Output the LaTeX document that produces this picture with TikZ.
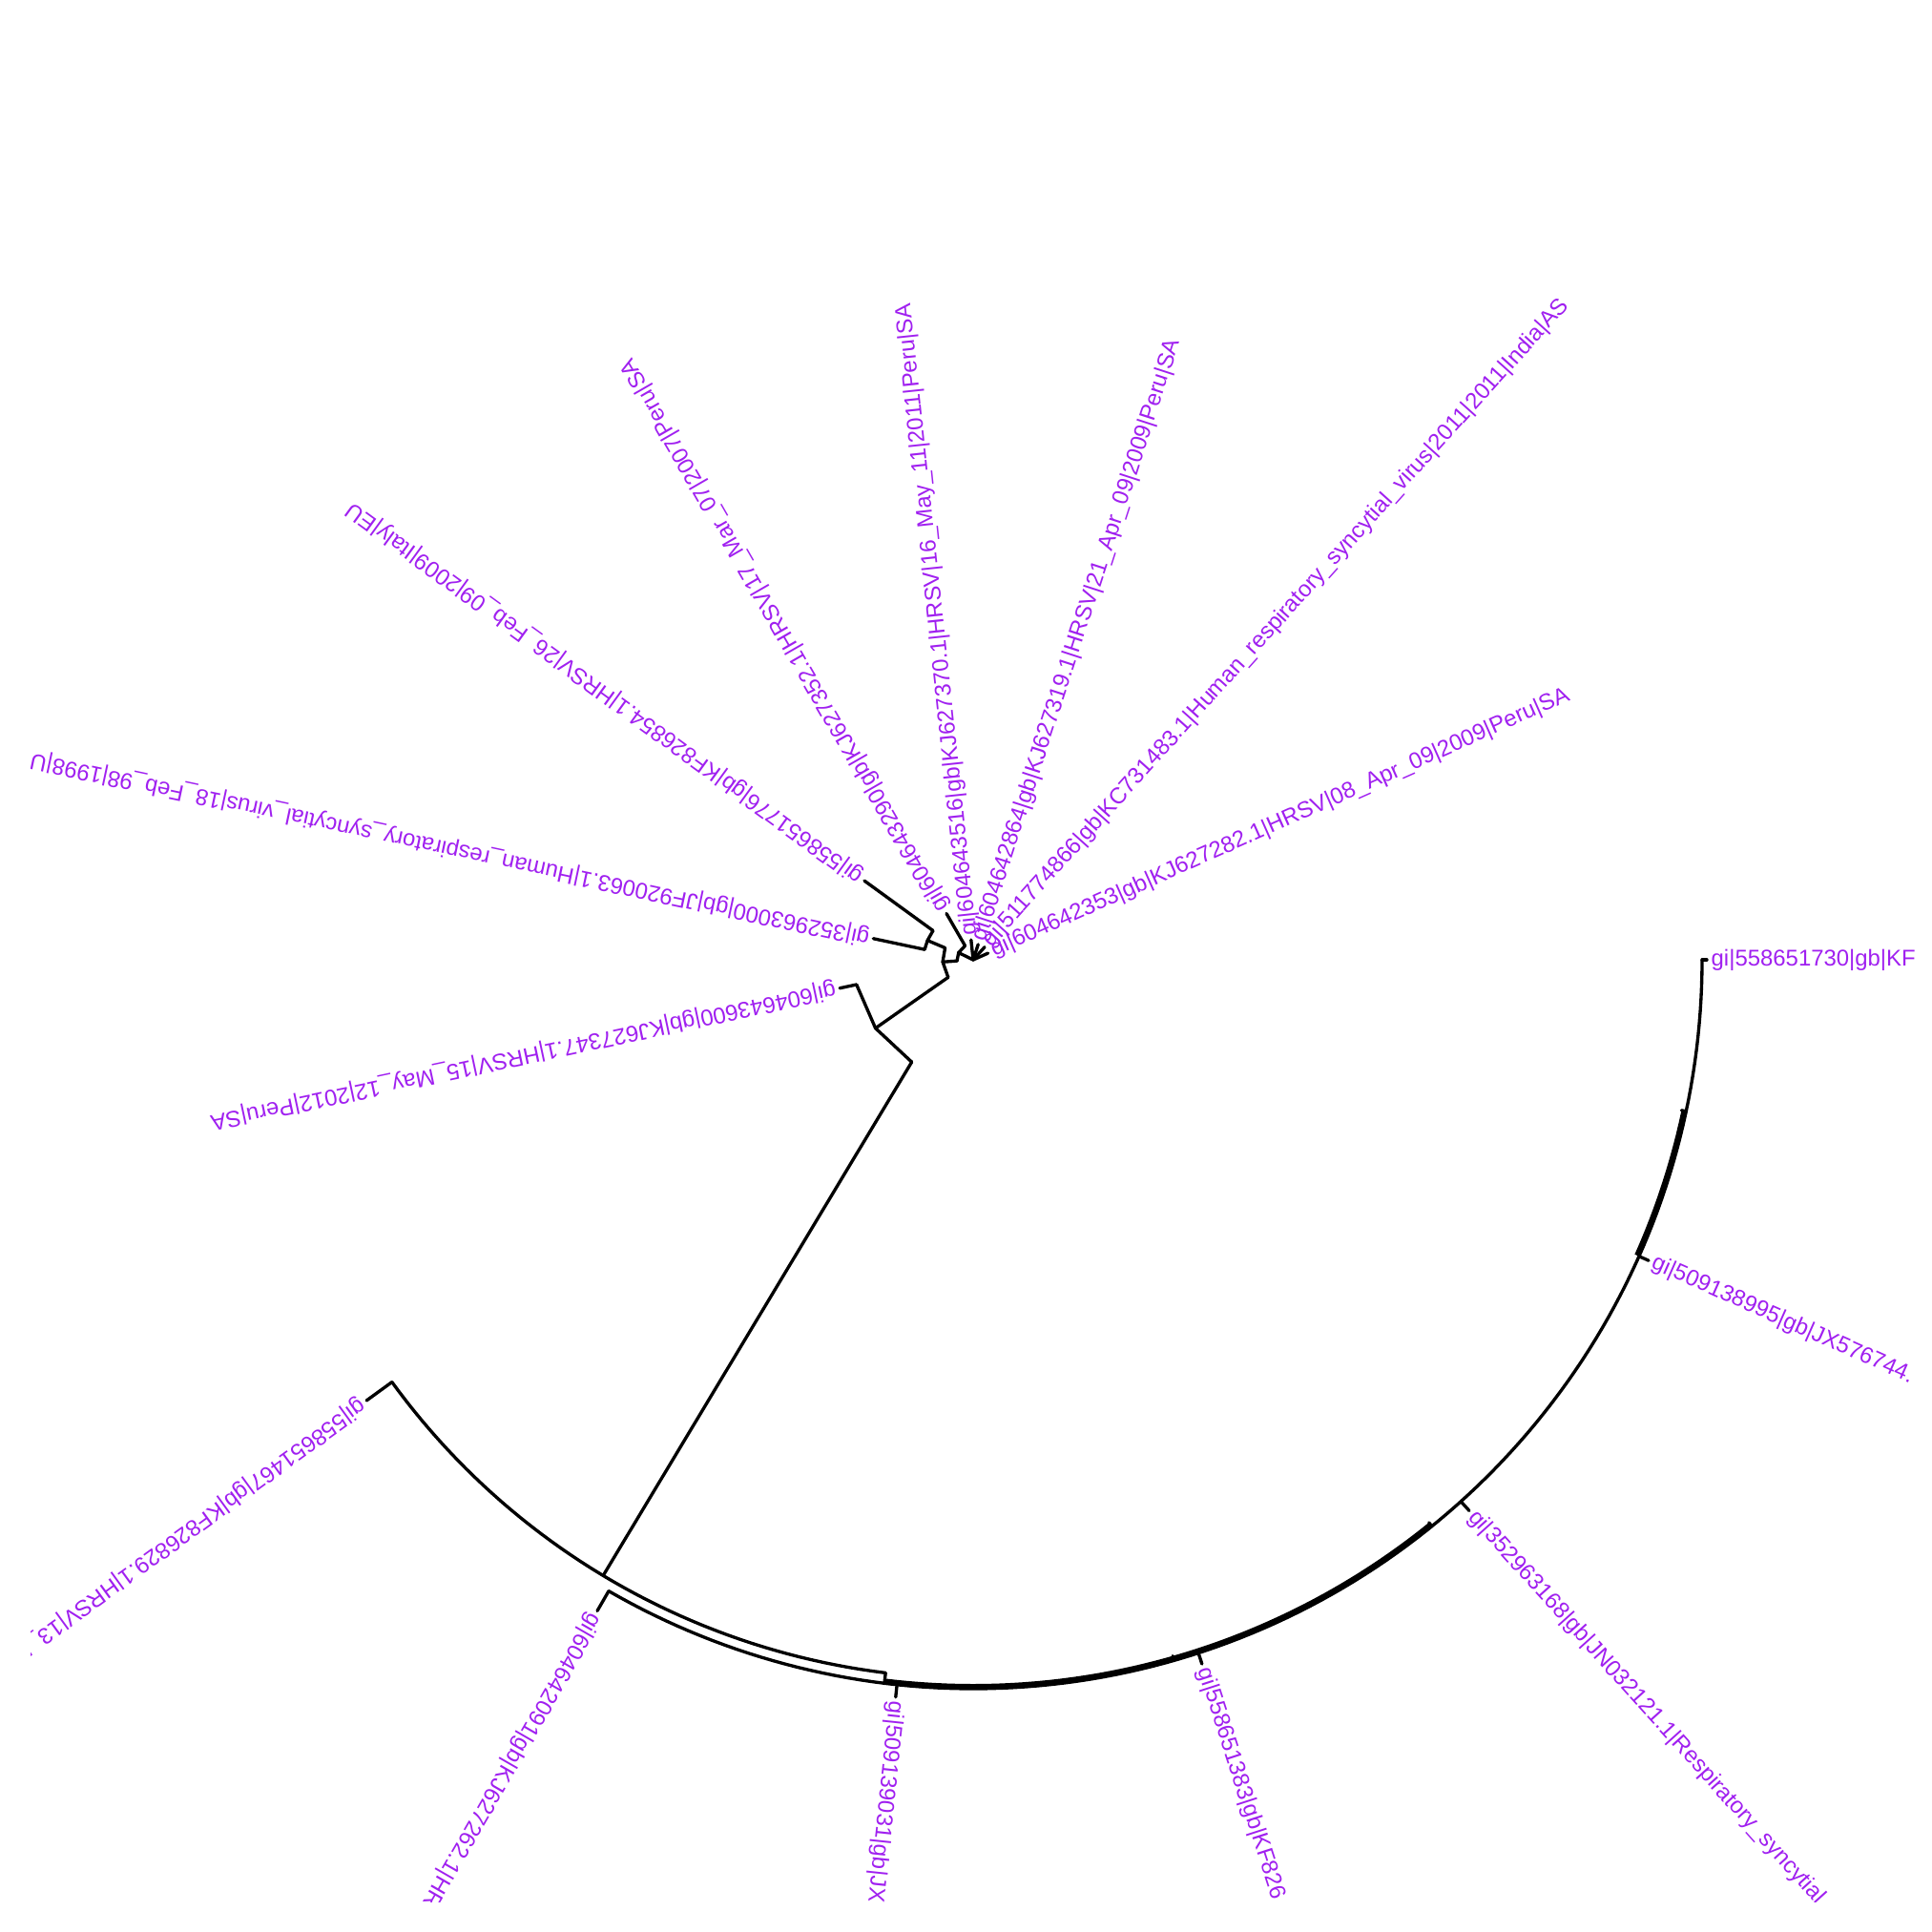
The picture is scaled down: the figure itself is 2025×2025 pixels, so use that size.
\documentclass[tikz,border=0pt]{standalone}
\usepackage{fontspec}
\setmainfont{Liberation Sans}
\definecolor{labcol}{HTML}{A020F0}
\newcommand\fanarc[3]{\draw plot[domain=#1:#2, samples=120] (\x:#3);}
\begin{document}
\begin{tikzpicture}[x=0.01cm, y=-0.01cm, line width=0.95pt, line cap=round, line join=round,
  lbl/.style={anchor=west, inner sep=0pt, text=labcol, font=\fontsize{6.8}{8}\selectfont},
  thickpart/.style={line width=1.7pt, line cap=butt}]
\useasboundingbox (0,0) rectangle (2025,2025);
\clip (32,28) rectangle (2008,1993);
\begin{scope}[shift={(1020,1006)}]
% ---- node positions (polar, screen angle clockwise) ----
\coordinate (O) at (0,0);
\coordinate (W) at (206:17);
\coordinate (t264) at (264:21);
\coordinate (t288) at (288:17);
\coordinate (t312) at (312:18);
\coordinate (t336) at (336:17);
\coordinate (t240s) at (240:17);
\coordinate (t240) at (240:56);
\coordinate (Ys) at (176:17);
\coordinate (Y) at (176:32);
\coordinate (Zs) at (203:32);
\coordinate (Z) at (203:52);
\coordinate (t192s) at (192:52);
\coordinate (t192) at (192:107);
\coordinate (t216s) at (216:52);
\coordinate (t216) at (216:141);
\coordinate (Xs) at (145:32);
\coordinate (X) at (145:125);
\coordinate (t168s) at (168:125);
\coordinate (t168) at (168:143);
\coordinate (Nas) at (121:125);
\coordinate (Na) at (121:753);
\coordinate (t144s) at (144:753);
\coordinate (t144) at (144:786);
\coordinate (Nbs) at (97:753);
\coordinate (Nb) at (97:764);
\coordinate (t120s) at (120:764);
\coordinate (t120) at (120:788);
\coordinate (t96s) at (96:764);
\coordinate (t96) at (96:777);
\coordinate (t72s) at (72:764);
\coordinate (t72) at (72:776);
\coordinate (t48s) at (48:764);
\coordinate (t48) at (48:777);
\coordinate (t24s) at (24:764);
\coordinate (t24) at (24:775);
\coordinate (t0s) at (0:764);
\coordinate (t0) at (0:769);
\coordinate (k74a) at (74:759);
\coordinate (k74b) at (74:764);
\coordinate (k51a) at (51:759);
\coordinate (k51b) at (51:764);
\coordinate (k12a) at (12:759);
\coordinate (k12b) at (12:764);
% ---- radial branches ----
\draw (O) -- (W);
\draw (O) -- (t264);
\draw (O) -- (t288);
\draw (O) -- (t312);
\draw (O) -- (t336);
\draw (t240s) -- (t240);
\draw (Ys) -- (Y);
\draw (Zs) -- (Z);
\draw (t192s) -- (t192);
\draw (t216s) -- (t216);
\draw (Xs) -- (X);
\draw (t168s) -- (t168);
\draw (Nas) -- (Na);
\draw (t144s) -- (t144);
\draw (Nbs) -- (Nb);
\draw (t120s) -- (t120);
\draw (t96s) -- (t96);
\draw (t72s) -- (t72);
\draw (t48s) -- (t48);
\draw (t24s) -- (t24);
\draw (t0s) -- (t0);
\draw (k74a) -- (k74b);
\draw (k51a) -- (k51b);
\draw (k12a) -- (k12b);
% ---- node arcs (small ones as chords, large ones smooth) ----
\draw (Ys) -- (W) -- (t240s);
\draw (Xs) -- (Y) -- (Zs);
\draw (t192s) -- (Z) -- (t216s);
\draw (Nas) -- (X) -- (t168s);
\fanarc{97}{144}{753}
\fanarc{0}{120}{764}
\begin{scope}[thickpart]
\fanarc{51}{97}{762}
\fanarc{12}{24}{762}
\end{scope}
% ---- tip labels ----
\node[lbl, rotate=0]    (l0)   at (0:772)   {gi|558651730|gb|KF};
\node[lbl, rotate=-24]  (l24)  at (24:778)  {gi|509138995|gb|JX576744.};
\node[lbl, rotate=-48]  (l48)  at (48:780)  {gi|352963168|gb|JN032121.1|Respiratory\_syncytial};
\node[lbl, rotate=-72]  (l72)  at (72:779)  {gi|558651383|gb|KF826};
\node[lbl, rotate=-96]  (l96)  at (96:780)  {gi|509139031|gb|JX};
\node[lbl, rotate=-120] (l120) at (120:791) {gi|604642091|gb|KJ627262.1|HRS};
\node[lbl, rotate=-144] (l144) at (144:789) {gi|558651467|gb|KF826829.1|HRSV|13\_F};
\node[lbl, rotate=-168] (l168) at (168:146) {gi|604643600|gb|KJ627347.1|HRSV|15\_May\_12|2012|Peru|SA};
\node[lbl, rotate=-192] (l192) at (192:110) {gi|352963000|gb|JF920063.1|Human\_respiratory\_syncytial\_virus|18\_Feb\_98|1998|US};
\node[lbl, rotate=-216] (l216) at (216:144) {gi|558651776|gb|KF826854.1|HRSV|26\_Feb\_09|2009|Italy|EU};
\node[lbl, rotate=-240] (l240) at (240:59)  {gi|604643290|gb|KJ627352.1|HRSV|17\_Mar\_07|2007|Peru|SA};
\node[lbl, rotate=-264] (l264) at (264:24)  {gi|604643516|gb|KJ627370.1|HRSV|16\_May\_11|2011|Peru|SA};
\node[lbl, rotate=-288] (l288) at (288:20)  {gi|604642864|gb|KJ627319.1|HRSV|21\_Apr\_09|2009|Peru|SA};
\node[lbl, rotate=-312] (l312) at (312:21)  {gi|511774866|gb|KC731483.1|Human\_respiratory\_syncytial\_virus|2011|2011|India|AS};
\node[lbl, rotate=-336] (l336) at (336:20)  {gi|604642353|gb|KJ627282.1|HRSV|08\_Apr\_09|2009|Peru|SA};
\end{scope}
\end{tikzpicture}
\end{document}
